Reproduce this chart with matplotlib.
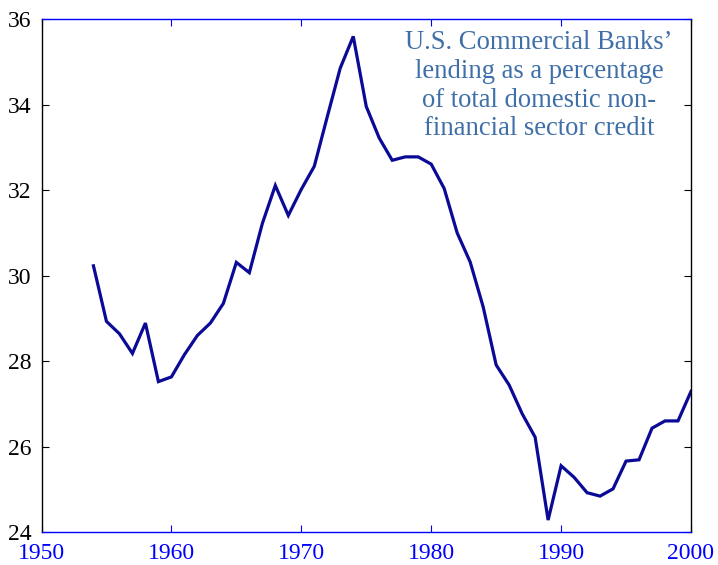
import matplotlib
matplotlib.use("Agg")
import matplotlib.pyplot as plt

years = list(range(1954, 2001))
share = [30.23, 28.93, 28.64, 28.18, 28.89, 27.52, 27.63, 28.15, 28.60, 28.89,
         29.35, 30.31, 30.07, 31.22, 32.11, 31.41, 32.02, 32.56, 33.72, 34.86,
         35.60, 33.96, 33.22, 32.70, 32.78, 32.78, 32.61, 32.04, 31.00, 30.32,
         29.27, 27.91, 27.44, 26.77, 26.22, 24.28, 25.55, 25.28, 24.92, 24.84,
         25.01, 25.66, 25.69, 26.43, 26.60, 26.60, 27.29]
xticks = [1950, 1960, 1970, 1980, 1990, 2000]
yticks = [24, 26, 28, 30, 32, 34, 36]
note = "U.S. Commercial Banks\u2019\nlending as a percentage\nof total domestic non-\nfinancial sector credit"

plt.rcParams['font.family'] = ['Liberation Serif', 'DejaVu Serif']

fig = plt.figure(figsize=(7.18, 5.65), dpi=100)
ax = fig.add_axes([41.5/718, 33/565, (691-41.5)/718, (532-19.3)/565])
ax.plot(years, share, color='#0a0a96', linewidth=2.3, solid_joinstyle='miter')
ax.set_xlim(1950, 2000)
ax.set_ylim(24, 36)
ax.set_xticks(xticks)
ax.set_yticks(yticks)
ax.tick_params(axis='x', direction='in', top=True, bottom=True, colors='#0000ff',
               labelsize=17, length=5, width=0.8, pad=8)
ax.tick_params(axis='y', direction='in', left=True, right=True, colors='black',
               labelsize=17, length=5, width=0.8, pad=7)
for s in ['top', 'bottom']:
    ax.spines[s].set_color('#0000ff')
for s in ['left', 'right']:
    ax.spines[s].set_color('black')
for s in ax.spines.values():
    s.set_linewidth(1.0)
ax.text((539-41.5)/(691-41.5), 1 - (30-19.3)/(532-19.3), note, transform=ax.transAxes,
        ha='center', va='top', fontsize=19.2, color='#3f6fa8', linespacing=1.2)
fig.savefig('out.png', dpi=100)
